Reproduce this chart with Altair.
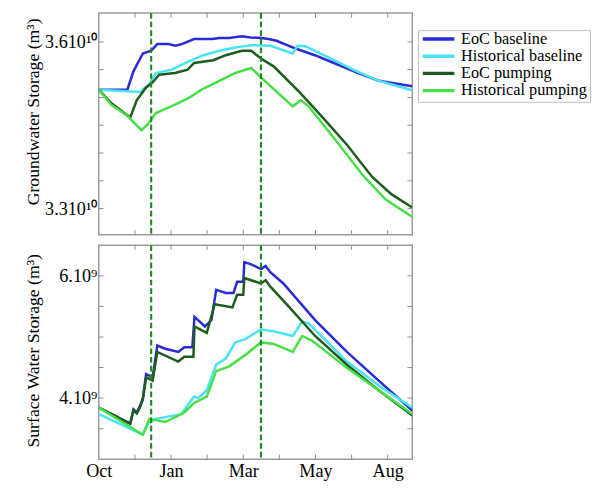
import altair as alt
import pandas as pd

SERIES = ["EoC baseline", "Historical baseline", "EoC pumping", "Historical pumping"]
COLORS = ["#2a2ad8", "#4ae3f3", "#1d5c1d", "#46e046"]

# x: months after 1 October (one tick per month)
X_TICKS = [1, 2, 3, 4, 5, 6, 7, 8]
X_LABEL_VALUES = [0, 2, 4, 6, 8]
X_LABEL_TEXT = ["Oct", "Jan", "Mar", "May", "Aug"]
PUMP_DATES = [1.45, 4.49]

# ---- Groundwater storage (units of 1e10 m3) ----
gw_eoc_base_t = [0.00, 0.79, 0.96, 1.22, 1.45, 1.62, 1.93, 2.12, 2.30, 2.64, 3.15, 3.33, 3.60, 3.96, 4.20, 4.49, 4.70, 4.92, 5.45, 5.98, 6.51, 7.13, 7.75, 8.68]
gw_eoc_base_v = [3.514, 3.514, 3.547, 3.579, 3.584, 3.596, 3.596, 3.593, 3.596, 3.605, 3.605, 3.607, 3.607, 3.610, 3.608, 3.607, 3.605, 3.602, 3.588, 3.576, 3.562, 3.545, 3.530, 3.520]

gw_hist_base_t = [0.00, 1.14, 1.40, 1.58, 2.02, 2.46, 2.90, 3.34, 3.78, 4.22, 4.75, 5.37, 5.50, 5.72, 6.43, 7.04, 7.75, 8.68]
gw_hist_base_v = [3.514, 3.510, 3.524, 3.544, 3.550, 3.564, 3.576, 3.584, 3.590, 3.594, 3.593, 3.579, 3.593, 3.592, 3.570, 3.550, 3.530, 3.513]

gw_eoc_pump_t = [0.00, 0.34, 0.87, 1.05, 1.31, 1.49, 1.67, 2.11, 2.46, 2.64, 3.17, 3.52, 3.96, 4.22, 4.49, 4.84, 5.55, 6.16, 6.87, 7.57, 8.10, 8.68]
gw_eoc_pump_v = [3.514, 3.490, 3.464, 3.495, 3.518, 3.527, 3.541, 3.544, 3.550, 3.562, 3.567, 3.576, 3.584, 3.584, 3.570, 3.556, 3.510, 3.467, 3.415, 3.357, 3.326, 3.302]

gw_hist_pump_t = [0.00, 0.34, 0.79, 1.18, 1.36, 1.58, 2.11, 2.46, 2.90, 3.34, 3.78, 4.22, 4.49, 5.37, 5.59, 5.81, 6.52, 7.31, 7.93, 8.68]
gw_hist_pump_v = [3.514, 3.487, 3.467, 3.441, 3.452, 3.472, 3.487, 3.498, 3.516, 3.530, 3.544, 3.553, 3.536, 3.484, 3.495, 3.484, 3.426, 3.360, 3.317, 3.285]

GW_TICKS = [3.30, 3.35, 3.40, 3.45, 3.50, 3.55, 3.60]
GW_LABEL_VALUES = [3.3, 3.6]
GW_LABEL_TEXT = ["3.310\u00b9\u2070", "3.610\u00b9\u2070"]

# ---- Surface water storage (units of 1e9 m3) ----
sw_eoc_base_t = [0.00, 0.87, 0.96, 1.05, 1.14, 1.22, 1.31, 1.49, 1.62, 1.84, 2.20, 2.37, 2.59, 2.65, 2.94, 3.12, 3.25, 3.52, 3.73, 3.83, 4.00, 4.03, 4.22, 4.49, 4.62, 4.75, 5.11, 5.99, 6.87, 7.75, 8.68]
sw_eoc_base_v = [3.844, 3.583, 3.817, 3.766, 3.870, 4.000, 4.391, 4.339, 4.859, 4.808, 4.755, 4.833, 4.833, 5.328, 5.172, 5.277, 5.770, 5.719, 5.719, 5.902, 5.902, 6.223, 6.188, 6.109, 6.161, 6.058, 5.875, 5.277, 4.755, 4.286, 3.797]

sw_eoc_pump_t = [0.00, 0.87, 0.96, 1.05, 1.14, 1.22, 1.31, 1.49, 1.62, 2.20, 2.37, 2.62, 2.65, 2.99, 3.21, 3.70, 3.83, 4.00, 4.03, 4.49, 4.62, 4.75, 5.28, 5.99, 6.87, 7.75, 8.68]
sw_eoc_pump_v = [3.844, 3.583, 3.800, 3.750, 3.850, 3.973, 4.339, 4.286, 4.755, 4.598, 4.677, 4.677, 5.172, 5.067, 5.536, 5.484, 5.692, 5.692, 5.964, 5.875, 5.927, 5.823, 5.484, 5.016, 4.547, 4.130, 3.714]

sw_hist_base_t = [0.00, 1.22, 1.36, 1.58, 2.28, 2.64, 2.75, 2.99, 3.25, 3.52, 3.78, 4.05, 4.49, 4.84, 5.37, 5.63, 5.81, 6.87, 7.75, 8.68]
sw_hist_base_v = [3.739, 3.402, 3.583, 3.661, 3.739, 4.027, 4.000, 4.130, 4.547, 4.652, 4.911, 4.964, 5.120, 5.094, 5.016, 5.250, 5.223, 4.598, 4.208, 3.844]

sw_hist_pump_t = [0.00, 1.22, 1.40, 1.84, 2.37, 2.64, 2.99, 3.25, 3.61, 4.05, 4.49, 4.84, 5.37, 5.63, 5.90, 6.87, 7.75, 8.68]
sw_hist_pump_v = [3.844, 3.402, 3.661, 3.609, 3.766, 3.922, 4.027, 4.442, 4.520, 4.703, 4.911, 4.886, 4.755, 5.016, 4.940, 4.495, 4.130, 3.739]

SW_TICKS = [3.5, 4.0, 4.5, 5.0, 5.5, 6.0]
SW_LABEL_VALUES = [4.0, 6.0]
SW_LABEL_TEXT = ["4.10\u2079", "6.10\u2079"]


def long_df(pairs):
    rows = []
    for name, ts, vs in pairs:
        for i, (t, v) in enumerate(zip(ts, vs)):
            rows.append({"series": name, "t": t, "v": v, "i": i})
    return pd.DataFrame(rows)


gw_df = long_df([
    ("EoC baseline", gw_eoc_base_t, gw_eoc_base_v),
    ("Historical baseline", gw_hist_base_t, gw_hist_base_v),
    ("EoC pumping", gw_eoc_pump_t, gw_eoc_pump_v),
    ("Historical pumping", gw_hist_pump_t, gw_hist_pump_v),
])
sw_df = long_df([
    ("EoC baseline", sw_eoc_base_t, sw_eoc_base_v),
    ("Historical baseline", sw_hist_base_t, sw_hist_base_v),
    ("EoC pumping", sw_eoc_pump_t, sw_eoc_pump_v),
    ("Historical pumping", sw_hist_pump_t, sw_hist_pump_v),
])

FONT = "Liberation Serif"
W = 328
X_DOMAIN = [0, 8.68]
TICK_COLOR = "#8a8a8a"


def label_expr(values, texts):
    expr = "''"
    for v, t in zip(reversed(values), reversed(texts)):
        expr = f"abs(datum.value - {v}) < 0.000001 ? '{t}' : ({expr})"
    return expr


def panel(df, height, ydomain, ylabel_vals, ylabel_text, yticks, ytitle, title_y, show_x, legend):
    xscale = alt.Scale(domain=X_DOMAIN, nice=False, zero=False)
    yscale = alt.Scale(domain=ydomain, nice=False, zero=False)
    if show_x:
        xaxis = alt.Axis(values=X_LABEL_VALUES, labelExpr=label_expr(X_LABEL_VALUES, X_LABEL_TEXT),
                         ticks=False, domain=False, grid=False, title=None, labelFlush=False,
                         labelFont=FONT, labelFontSize=19, labelColor="black", labelPadding=3)
    else:
        xaxis = alt.Axis(labels=False, ticks=False, domain=False, grid=False, title=None)
    yaxis = alt.Axis(values=ylabel_vals, labelExpr=label_expr(ylabel_vals, ylabel_text),
                     ticks=False, domain=False, grid=False, title=ytitle,
                     labelFlush=False, labelBaseline="middle",
                     labelFont=FONT, labelFontSize=19, labelColor="black", labelPadding=2,
                     titleFont=FONT, titleFontSize=18.5, titleFontWeight="normal", titleColor="black",
                     titleX=-59, titleY=title_y)

    X = alt.X("t:Q", scale=xscale, axis=xaxis)
    Y = alt.Y("v:Q", scale=yscale, axis=yaxis)

    lines = alt.Chart(df).mark_line(strokeWidth=2.6, clip=True).encode(
        x=X, y=Y,
        color=alt.Color("series:N", scale=alt.Scale(domain=SERIES, range=COLORS), sort=SERIES, legend=legend),
        order=alt.Order("i:Q"),
    )
    pump = alt.Chart(pd.DataFrame({"t": PUMP_DATES})).mark_rule(
        color="#1f8a1f", strokeWidth=2.2, strokeDash=[6, 3]
    ).encode(x=X)

    xt = pd.DataFrame({"t": X_TICKS})
    yt = pd.DataFrame({"v": yticks})
    tb = alt.Chart(xt).mark_rule(color=TICK_COLOR, strokeWidth=1).encode(
        x=X, y=alt.value(height), y2=alt.value(height - 5))
    tt = alt.Chart(xt).mark_rule(color=TICK_COLOR, strokeWidth=1).encode(
        x=X, y=alt.value(0), y2=alt.value(5))
    tl = alt.Chart(yt).mark_rule(color=TICK_COLOR, strokeWidth=1).encode(
        y=Y, x=alt.value(0), x2=alt.value(5))
    tr = alt.Chart(yt).mark_rule(color=TICK_COLOR, strokeWidth=1).encode(
        y=Y, x=alt.value(W - 5), x2=alt.value(W))

    return alt.layer(lines, pump, tb, tt, tl, tr).properties(width=W, height=height)


legend = alt.Legend(
    title=None, orient="none", legendX=334, legendY=18,
    symbolType="stroke", symbolSize=1089, symbolStrokeWidth=3.5,
    labelFont=FONT, labelFontSize=17, labelColor="black", labelLimit=300,
    rowPadding=0, clipHeight=12.5, symbolOffset=0, labelOffset=5,
    strokeColor="#bdbdbd", padding=3,
)

top = panel(gw_df, 232, [3.253, 3.652], GW_LABEL_VALUES, GW_LABEL_TEXT, GW_TICKS,
            "Groundwater Storage (m\u00b3)", 103, False, legend)
bottom = panel(sw_df, 224, [3.0, 6.5], SW_LABEL_VALUES, SW_LABEL_TEXT, SW_TICKS,
               "Surface Water Storage (m\u00b3)", 110, True, legend)

chart = alt.vconcat(top, bottom, spacing=7, padding={"left": 16, "top": -8, "right": 0, "bottom": 0},
                    background="white").configure_view(
    stroke="#9a9a9a", strokeWidth=1.5
).configure_legend(labelFont=FONT, labelFontSize=17, labelColor="black")

chart.save("out.html", embed_options={"renderer": "svg", "actions": False})
